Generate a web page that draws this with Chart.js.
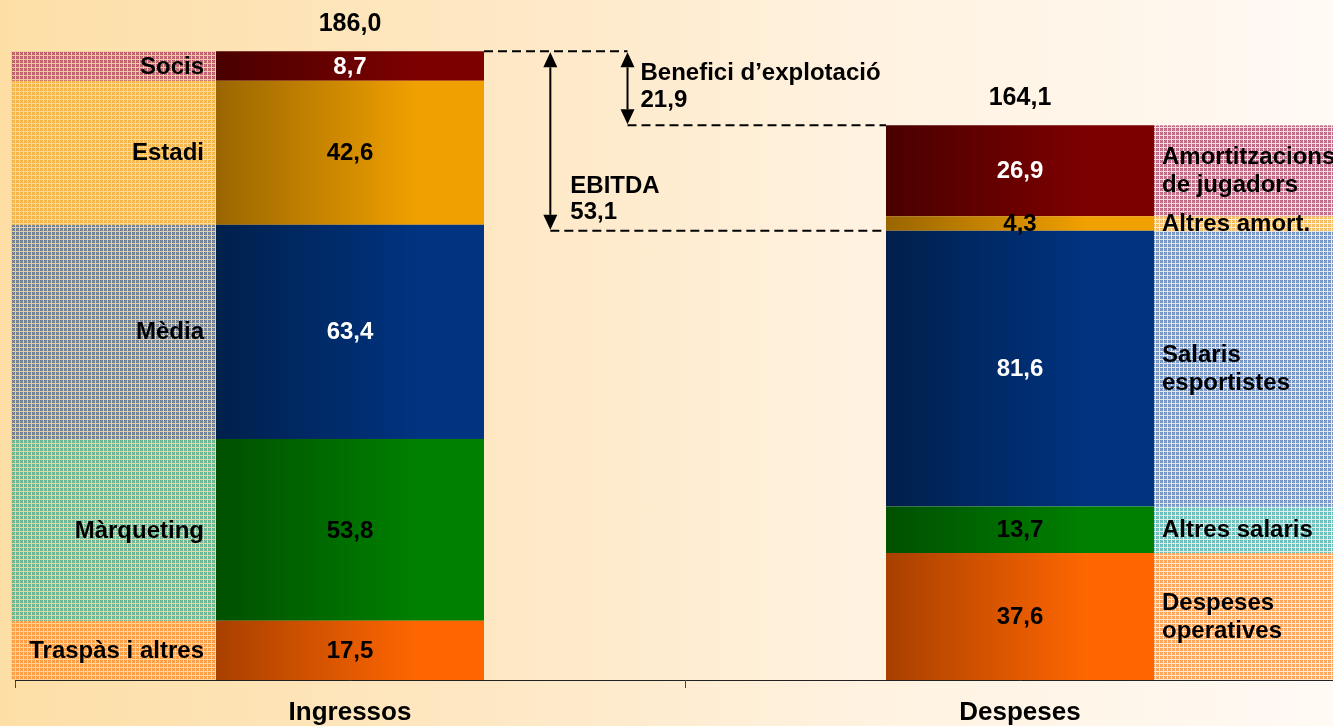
<!DOCTYPE html>
<html>
<head>
<meta charset="utf-8">
<script src="https://cdn.jsdelivr.net/npm/chart.js@4"></script>
<style>
  html, body { margin: 0; padding: 0; overflow: hidden; }
  body {
    width: 1333px; height: 726px;
    background: linear-gradient(to right, #fddfa6 0%, #fee7c2 35%, #fff2e0 65%, #fffaf4 100%);
  }
  #chart { display: block; }
</style>
</head>
<body>
<canvas id="chart" width="1360" height="726"></canvas>
<script>
// Data (bottom to top of each stack)
const categories = ['Ingressos', 'Despeses'];
const ingressosLabels = [['Traspàs i altres'], ['Màrqueting'], ['Mèdia'], ['Estadi'], ['Socis']];
const despesesLabels = [['Despeses', 'operatives'], ['Altres salaris'], ['Salaris', 'esportistes'], ['Altres amort.'], ['Amortitzacions', 'de jugadors']];
const ingressosValues = [17.5, 53.8, 63.4, 42.6, 8.7];
const despesesValues = [37.6, 13.7, 81.6, 4.3, 26.9];
const totals = [186.0, 164.1];
const beneficiValue = 21.9;
const ebitdaValue = 53.1;

// Styles
const gradientColors = [
    ['#a84000', '#ff6600'],
    ['#005000', '#008000'],
    ['#00204c', '#003380'],
    ['#9a6600', '#f0a000'],
    ['#4a0000', '#7c0000']
];
const valueTextColors = ['#000', '#000', '#fff', '#000', '#fff'];
const patternLeft = ['#ff7a10', '#20a088', '#2a5088', '#f0a018', '#a02050'];
const patternRight = ['#ff7a10', '#20a0a0', '#2f62b0', '#f0a018', '#a02050'];
const FAMILY = '"Liberation Sans", Arial, sans-serif';
const FONT = 'bold 24px ' + FAMILY;

function fmt(v) {
    return v.toFixed(1).replace('.', ',');
}

function makePattern(ctx, hex) {
    const size = 8;
    const c = document.createElement('canvas');
    c.width = size; c.height = size;
    const g = c.getContext('2d');
    const img = g.createImageData(size, size);
    const r = parseInt(hex.slice(1, 3), 16);
    const gg = parseInt(hex.slice(3, 5), 16);
    const b = parseInt(hex.slice(5, 7), 16);
    for (let j = 0; j < size; j++) {
        for (let i = 0; i < size; i++) {
            let a = 0.55;
            if (i % 4 === 3 || j % 4 === 3) a = 0.12;
            else if ((i + j) % 2 === 0) a = 0.72;
            const k = (j * size + i) * 4;
            img.data[k] = r; img.data[k + 1] = gg; img.data[k + 2] = b;
            img.data[k + 3] = Math.round(a * 255);
        }
    }
    g.putImageData(img, 0, 0);
    return ctx.createPattern(c, 'repeat');
}

function barGradient(context, idx) {
    const chart = context.chart;
    const xs = chart.scales.x;
    if (!chart.chartArea || !xs || context.dataIndex === undefined) return gradientColors[idx][1];
    const cx = xs.getPixelForValue(context.dataIndex);
    const w = (xs.width / categories.length) * 0.4;
    const grad = chart.ctx.createLinearGradient(cx - w / 2, 0, cx + w / 2, 0);
    grad.addColorStop(0, gradientColors[idx][0]);
    grad.addColorStop(0.75, gradientColors[idx][1]);
    grad.addColorStop(1, gradientColors[idx][1]);
    return grad;
}

const datasets = ingressosValues.map((v, i) => ({
    label: ingressosLabels[i].join(' '),
    data: [v, despesesValues[i]],
    backgroundColor: (c) => barGradient(c, i),
    borderWidth: 0,
    barPercentage: 0.4,
    categoryPercentage: 1
}));

// Side label blocks, values in bars, totals and margin arrows
const annotatePlugin = {
    id: 'annotate',
    beforeDatasetsDraw(chart) {
        const ctx = chart.ctx;
        ctx.save();
        for (let i = 0; i < datasets.length; i++) {
            const meta = chart.getDatasetMeta(i);
            const left = meta.data[0];
            const right = meta.data[1];
            ctx.fillStyle = makePattern(ctx, patternLeft[i]);
            ctx.fillRect(11, left.y, left.x - left.width / 2 - 11, left.base - left.y);
            ctx.fillStyle = makePattern(ctx, patternRight[i]);
            const rx = right.x + right.width / 2;
            ctx.fillRect(rx, right.y, chart.width - rx, right.base - right.y);
        }
        ctx.restore();
    },
    afterDatasetsDraw(chart) {
        const ctx = chart.ctx;
        const y = chart.scales.y;
        ctx.save();
        ctx.font = FONT;
        ctx.textBaseline = 'middle';

        for (let i = 0; i < datasets.length; i++) {
            const meta = chart.getDatasetMeta(i);
            const vals = [ingressosValues[i], despesesValues[i]];
            meta.data.forEach((bar, k) => {
                const mid = (bar.y + bar.base) / 2;
                ctx.textAlign = 'center';
                ctx.fillStyle = valueTextColors[i];
                ctx.fillText(fmt(vals[k]), bar.x, mid + 1);
                ctx.fillStyle = '#000';
                const lines = k === 0 ? ingressosLabels[i] : despesesLabels[i];
                const lh = 28;
                lines.forEach((line, n) => {
                    const ly = mid + (n - (lines.length - 1) / 2) * lh + 1;
                    if (k === 0) {
                        ctx.textAlign = 'right';
                        ctx.fillText(line, bar.x - bar.width / 2 - 12, ly);
                    } else {
                        ctx.textAlign = 'left';
                        ctx.fillText(line, bar.x + bar.width / 2 + 8, ly);
                    }
                });
            });
        }

        // totals above the stacks
        const top = chart.getDatasetMeta(datasets.length - 1).data;
        ctx.textAlign = 'center';
        ctx.fillStyle = '#000';
        ctx.font = 'bold 25px ' + FAMILY;
        top.forEach((bar, k) => {
            ctx.fillText(fmt(totals[k]), bar.x, y.getPixelForValue(totals[k]) - 27);
        });

        // margin lines
        const inRight = top[0].x + top[0].width / 2;
        const desLeft = top[1].x - top[1].width / 2;
        const gap = desLeft - inRight;
        const yTop = y.getPixelForValue(totals[0]);
        const yBen = y.getPixelForValue(totals[0] - beneficiValue);
        const yEbit = y.getPixelForValue(totals[0] - ebitdaValue);
        const xEbit = inRight + gap * 0.165;
        const xBen = inRight + gap * 0.357;

        ctx.strokeStyle = '#000';
        ctx.lineWidth = 2;
        ctx.setLineDash([9, 5]);
        ctx.beginPath();
        ctx.moveTo(inRight, yTop); ctx.lineTo(xBen, yTop);
        ctx.moveTo(xBen, yBen); ctx.lineTo(desLeft, yBen);
        ctx.moveTo(xEbit, yEbit); ctx.lineTo(desLeft, yEbit);
        ctx.stroke();
        ctx.setLineDash([]);

        function arrow(x, y1, y2) {
            const hw = 7, hh = 15;
            ctx.beginPath();
            ctx.moveTo(x, y1 + hh); ctx.lineTo(x, y2 - hh);
            ctx.stroke();
            ctx.beginPath();
            ctx.moveTo(x, y1); ctx.lineTo(x - hw, y1 + hh); ctx.lineTo(x + hw, y1 + hh);
            ctx.closePath();
            ctx.moveTo(x, y2); ctx.lineTo(x - hw, y2 - hh); ctx.lineTo(x + hw, y2 - hh);
            ctx.closePath();
            ctx.fill();
        }
        ctx.fillStyle = '#000';
        arrow(xEbit, yTop + 1, yEbit - 1);
        arrow(xBen, yTop + 1, yBen - 1);

        ctx.textAlign = 'left';
        ctx.font = FONT;
        ctx.fillText('Benefici d\u2019explotació', xBen + 13, yTop + 22);
        ctx.fillText(fmt(beneficiValue), xBen + 13, yTop + 49);
        ctx.fillText('EBITDA', xEbit + 20, yEbit - 44);
        ctx.fillText(fmt(ebitdaValue), xEbit + 20, yEbit - 18);
        ctx.restore();
    }
};

new Chart(document.getElementById('chart'), {
    type: 'bar',
    data: { labels: categories, datasets: datasets },
    options: {
        responsive: false,
        animation: false,
        layout: { padding: { left: 15, right: 5, top: 4, bottom: 0 } },
        plugins: {
            legend: { display: false },
            tooltip: { enabled: false }
        },
        scales: {
            x: {
                stacked: true,
                afterFit: (scale) => { scale.height = 46; },
                grid: { display: true, drawOnChartArea: false, tickLength: 8, color: '#444', offset: true },
                border: { display: true, color: '#222', width: 1 },
                ticks: { color: '#000', padding: 9, font: { family: FAMILY, size: 26, weight: 'bold' } }
            },
            y: {
                stacked: true,
                display: false,
                min: 0,
                max: 200
            }
        }
    },
    plugins: [annotatePlugin]
});
</script>
</body>
</html>
